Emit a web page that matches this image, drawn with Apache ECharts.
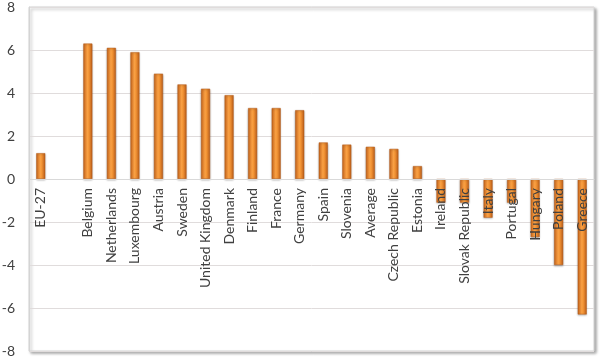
<!DOCTYPE html>
<html>
<head>
<meta charset="utf-8">
<script src="https://cdn.jsdelivr.net/npm/echarts@6/dist/echarts.min.js"></script>
<style>html,body{margin:0;padding:0;background:#fff;}#c{width:600px;height:359px;}</style>
</head>
<body>
<div id="c"></div>
<script>
const categories = ['EU-27','','Belgium','Netherlands','Luxembourg','Austria','Sweden','United Kingdom','Denmark','Finland','France','Germany','Spain','Slovenia','Average','Czech Republic','Estonia','Ireland','Slovak Republic','Italy','Portugal','Hungary','Poland','Greece'];
const values = [1.2,null,6.3,6.1,5.9,4.9,4.4,4.2,3.9,3.3,3.3,3.2,1.7,1.6,1.5,1.4,0.6,-1.1,-1.1,-1.8,-1.1,-2.7,-4.0,-6.3];
const yTicks = {min:-8,max:8,interval:2};

const gridTop = 7, gridBottom = 8, H = 359;
const zeroOffset = -((H - gridTop - gridBottom) * (0 - yTicks.min) / (yTicks.max - yTicks.min));

const chart = echarts.init(document.getElementById('c'));
chart.setOption({
  animation:false,
  grid:{left:29,right:6,top:gridTop,bottom:gridBottom,containLabel:false,outerBoundsMode:'none',show:true,borderColor:'#d4d4d4',borderWidth:1,
        shadowColor:'rgba(0,0,0,0.35)',shadowBlur:3,shadowOffsetX:2,shadowOffsetY:2,backgroundColor:'#fff'},
  xAxis:{type:'category',data:categories,position:'bottom',offset:zeroOffset,z:10,
    axisLine:{onZero:false,lineStyle:{color:'#d9d9d9'}},
    axisTick:{show:false},
    axisLabel:{rotate:90,interval:0,fontFamily:'Lato',fontSize:14,color:'#404040',margin:9}},
  yAxis:{type:'value',min:yTicks.min,max:yTicks.max,interval:yTicks.interval,
    axisLine:{show:true,lineStyle:{color:'#d4d4d4'}},
    axisTick:{show:false},
    splitLine:{lineStyle:{color:'#e0dcdc'}},
    axisLabel:{fontFamily:'Lato',fontSize:14,color:'#404040',margin:14}},
  series:[{type:'bar',data:values,barWidth:9,z:1,
    itemStyle:{
      color:new echarts.graphic.LinearGradient(0,0,1,0,[
        {offset:0,color:'#c8661c'},{offset:0.45,color:'#f8a044'},{offset:0.6,color:'#f39536'},{offset:1,color:'#c0601a'}]),
      borderColor:'#b85c18',borderWidth:0.5,
      shadowColor:'rgba(0,0,0,0.3)',shadowBlur:2,shadowOffsetY:1}
  }]
});
</script>
</body>
</html>
